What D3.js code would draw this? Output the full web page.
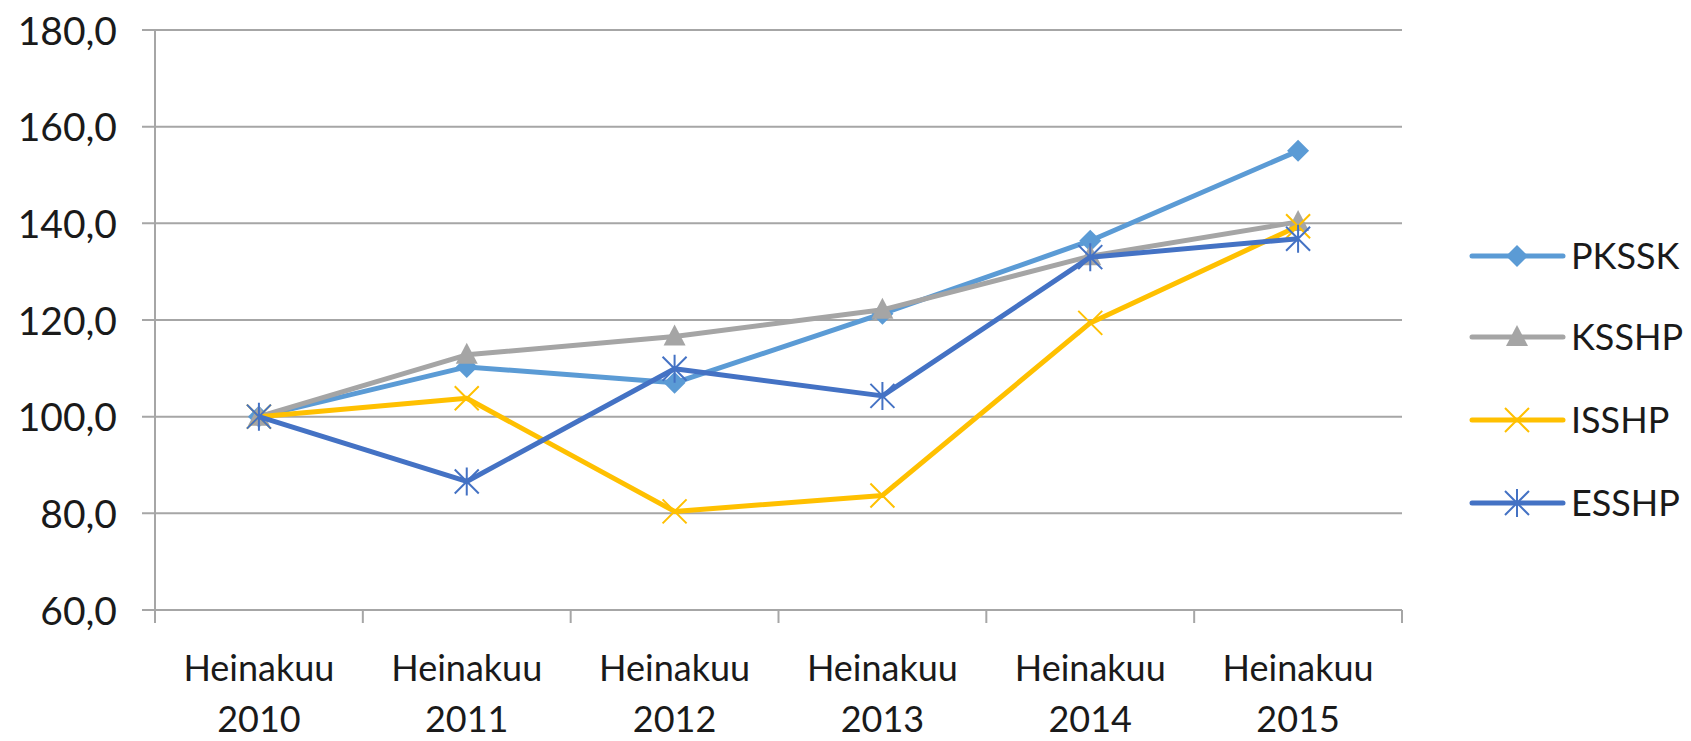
<!DOCTYPE html>
<html><head><meta charset="utf-8">
<script src="https://cdn.jsdelivr.net/npm/d3@7"></script>
<style>
html,body{margin:0;padding:0;background:#fff;}
svg{display:block;}
text{font-family:Lato, "Open Sans", sans-serif;fill:#1a1a1a;}
</style></head>
<body>
<svg id="chart" width="1691" height="741"></svg>
<script>
const categories = ["2010","2011","2012","2013","2014","2015"];
const categoryPrefix = "Heinakuu";
const seriesNames = ["PKSSK","KSSHP","ISSHP","ESSHP"];
const PKSSK = [100, 110.3, 107.0, 121.3, 136.4, 155.0];
const KSSHP = [100, 112.8, 116.6, 122.1, 133.2, 140.3];
const ISSHP = [100, 103.8, 80.4, 83.7, 119.4, 139.4];
const ESSHP = [100, 86.6, 109.9, 104.3, 133.0, 136.8];
const yTicks = [60, 80, 100, 120, 140, 160, 180];

const seriesValues = [PKSSK, KSSHP, ISSHP, ESSHP];
const colors = ["#5B9BD5", "#A5A5A5", "#FFC000", "#4472C4"];
const markers = ["diamond", "triangle", "x", "asterisk"];

(function () {
const svg = d3.select("#chart");
const pLeft = 155, pRight = 1402, pTop = 30, pBottom = 610;
const x = d3.scaleBand().domain(categories).range([pLeft, pRight]).padding(0);
const y = d3.scaleLinear().domain([60, 180]).range([pBottom, pTop]);
const gridColor = "#A6A6A6";

// gridlines
svg.append("g").selectAll("line").data(yTicks).join("line")
  .attr("x1", pLeft - 13).attr("x2", pRight)
  .attr("y1", d => y(d)).attr("y2", d => y(d))
  .attr("stroke", gridColor).attr("stroke-width", 2);

// y axis
const yAxis = svg.append("g").attr("transform", `translate(${pLeft},0)`)
  .call(d3.axisLeft(y).tickValues(yTicks).tickSize(0).tickPadding(38)
    .tickFormat(d => d.toFixed(1).replace(".", ",")));
yAxis.select(".domain").remove();
yAxis.selectAll("text").attr("font-size", 39).attr("font-family", "Lato").attr("fill", "#1a1a1a").attr("dy", "0.36em");

svg.append("line").attr("x1", pLeft).attr("x2", pLeft).attr("y1", pTop).attr("y2", pBottom + 13)
  .attr("stroke", gridColor).attr("stroke-width", 2);

// x category boundary ticks
const bounds = categories.map(c => x(c)).concat([pRight]);
svg.append("g").selectAll("line").data(bounds.slice(1)).join("line")
  .attr("x1", d => d).attr("x2", d => d).attr("y1", pBottom).attr("y2", pBottom + 13)
  .attr("stroke", gridColor).attr("stroke-width", 2);

// x labels
const xl = svg.append("g").selectAll("text").data(categories).join("text")
  .attr("text-anchor", "middle").attr("font-size", 36)
  .attr("x", d => x(d) + x.bandwidth() / 2);
xl.append("tspan").attr("x", d => x(d) + x.bandwidth() / 2).attr("y", 681).text(categoryPrefix);
xl.append("tspan").attr("x", d => x(d) + x.bandwidth() / 2).attr("y", 732).text(d => d);

function drawMarker(g, type, color) {
  if (type === "diamond") {
    g.append("path").attr("d", "M0,-11L11,0L0,11L-11,0Z").attr("fill", color);
  } else if (type === "triangle") {
    g.append("path").attr("d", "M0,-12L11,9L-11,9Z").attr("fill", color);
  } else if (type === "x") {
    g.append("path").attr("d", "M-12,-12L12,12M-12,12L12,-12").attr("stroke", color).attr("stroke-width", 2).attr("fill", "none");
  } else {
    g.append("path").attr("d", "M-12,-12L12,12M-12,12L12,-12M0,-14L0,14").attr("stroke", color).attr("stroke-width", 2).attr("fill", "none");
  }
}

const line = d3.line().x((d, i) => x(categories[i]) + x.bandwidth() / 2).y(d => y(d));
seriesValues.forEach((vals, si) => {
  const g = svg.append("g");
  g.append("path").datum(vals).attr("d", line).attr("fill", "none")
    .attr("stroke", colors[si]).attr("stroke-width", 5).attr("stroke-linejoin", "round");
  vals.forEach((v, i) => {
    const mg = g.append("g").attr("transform", `translate(${x(categories[i]) + x.bandwidth() / 2},${y(v)})`);
    drawMarker(mg, markers[si], colors[si]);
  });
});

// legend
const legendY = [256, 337, 420, 503];
seriesNames.forEach((name, si) => {
  const g = svg.append("g").attr("transform", `translate(0,${legendY[si]})`);
  g.append("line").attr("x1", 1472).attr("x2", 1563).attr("y1", 0).attr("y2", 0)
    .attr("stroke", colors[si]).attr("stroke-width", 5).attr("stroke-linecap", "round");
  const mg = g.append("g").attr("transform", "translate(1517,0)");
  drawMarker(mg, markers[si], colors[si]);
  g.append("text").attr("x", 1571).attr("y", 0).attr("dy", "0.36em").attr("font-size", 36).text(name);
});
})();
</script>
</body></html>
